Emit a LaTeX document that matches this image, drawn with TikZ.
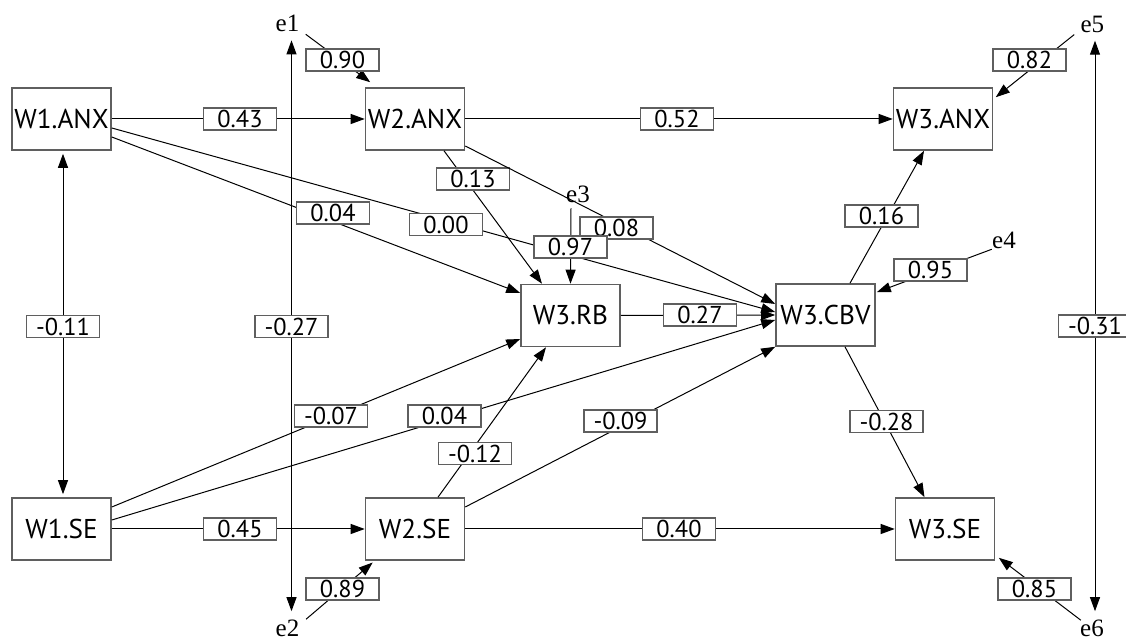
\documentclass[tikz,border=0pt]{standalone}
\usepackage{fontspec}
\usetikzlibrary{arrows.meta}
\newfontfamily\varfont{PT Sans}
\newfontfamily\errfont{Liberation Serif}
\definecolor{boxgray}{RGB}{95,95,95}
\tikzset{
  var/.style={draw=boxgray, line width=0.8pt, minimum width=49.5pt, minimum height=31pt,
    inner sep=0pt, font=\varfont\fontsize{13.6}{15}\selectfont},
  lab/.style={draw=boxgray, line width=0.7pt, fill=white, minimum width=36.5pt,
    minimum height=11pt, inner sep=0pt, font=\varfont\fontsize{12.2}{13}\selectfont},
  err/.style={inner sep=0pt, font=\errfont\fontsize{12.5}{13}\selectfont},
  tip/.tip={Triangle[length=7pt,width=5pt]},
  path/.style={draw=black, line width=0.5pt, -tip},
  bidir/.style={draw=black, line width=0.5pt, tip-tip}
}
\begin{document}
\begin{tikzpicture}[x=0.5pt, y=-0.5pt]
\clip (0,0) rectangle (1126,640);
\fill[white] (0,0) rectangle (1126,640);

% observed variables
\node[var] (W1ANX) at (61.5,119) {W1.ANX};
\node[var] (W2ANX) at (415,119) {W2.ANX};
\node[var] (W3ANX) at (943,119) {W3.ANX};
\node[var] (W1SE) at (61.5,529) {W1.SE};
\node[var] (W2SE) at (415,529) {W2.SE};
\node[var] (W3SE) at (945,529) {W3.SE};
\node[var] (W3RB) at (570.5,315.5) {W3.RB};
\node[var] (W3CBV) at (825.5,315) {W3.CBV};

% error terms
\node[err] (e1) at (287.5,23) {e1};
\node[err] (e2) at (287.5,628) {e2};
\node[err] (e3) at (578,194.5) {e3};
\node[err] (e4) at (1004,240.5) {e4};
\node[err] (e5) at (1092.4,24.4) {e5};
\node[err] (e6) at (1092,628) {e6};

% covariances
\draw[bidir, shorten <=1.5pt, shorten >=1.5pt] ([xshift=0.75pt]W1ANX.south) -- ([xshift=0.75pt]W1SE.north)
  node[lab] at (63,326.5) {-0.11};
\draw[bidir, shorten <=4.3pt, shorten >=4pt] ([xshift=2pt]e1.south) -- ([xshift=2pt]e2.north)
  node[lab] at (291.5,326.5) {-0.27};
\draw[bidir, shorten <=3.8pt, shorten >=4pt] ([xshift=1.3pt]e5.south) -- ([xshift=1.5pt]e6.north)
  node[lab] at (1095,326) {-0.31};

% horizontal paths
\draw[path] (W1ANX.east) -- (W2ANX.west) node[lab] at (240,119) {0.43};
\draw[path] (W2ANX.east) -- (W3ANX.west) node[lab] at (677,119) {0.52};
\draw[path] (W1SE.east) -- (W2SE.west) node[lab] at (240,529) {0.45};
\draw[path] (W2SE.east) -- (W3SE.west) node[lab] at (679,529) {0.40};

% cross paths
\draw[path] ([shift={(0,18)}]W1ANX.east) -- ([shift={(0,-22.5)}]W3RB.west)
  node[lab] at (333,213) {0.04};
\draw[path] ([shift={(0,9)}]W1ANX.east) -- ([shift={(0,-3)}]W3CBV.west)
  node[lab] at (446,224.5) {0.00};
\draw[path] ([shift={(29,0)}]W2ANX.south) -- ([shift={(-28.5,0)}]W3RB.north)
  node[lab] at (473,179) {0.13};
\draw[path] ([shift={(0,27)}]W2ANX.east) -- ([shift={(0,-11)}]W3CBV.west)
  node[lab] at (616.5,228) {0.08};
\draw[path] (W3RB.east) -- (W3CBV.west) node[lab] at (700,315) {0.27};
\draw[path] ([shift={(0,-22)}]W1SE.east) -- ([shift={(0,23.5)}]W3RB.west)
  node[lab] at (331,416) {-0.07};
\draw[path] ([shift={(0,-9)}]W1SE.east) -- ([shift={(0,5)}]W3CBV.west)
  node[lab] at (444.5,416) {0.04};
\draw[path] ([shift={(23,0)}]W2SE.north) -- ([shift={(-24.5,0)}]W3RB.south)
  node[lab] at (475,453.5) {-0.12};
\draw[path] ([shift={(0,-22)}]W2SE.east) -- (W3CBV.south west)
  node[lab] at (620.5,421) {-0.09};
\draw[path] ([shift={(24.5,0)}]W3CBV.north) -- ([shift={(-19,0)}]W3ANX.south)
  node[lab] at (881.5,216) {0.16};
\draw[path] ([shift={(19.5,0)}]W3CBV.south) -- ([shift={(-20.5,0)}]W3SE.north)
  node[lab] at (886.5,421.5) {-0.28};

% error paths
\draw[path] ([shift={(6,2.5)}]e1.south east) -- ([shift={(5.5,-5)}]W2ANX.north west)
  node[lab] at (342.5,60) {0.90};
\draw[path] ([shift={(6.4,0)}]e2.north east) -- ([shift={(8,1.7)}]W2SE.south west)
  node[lab] at (342.5,589) {0.89};
\draw[path] ([shift={(-6,1.5)}]e5.south west) -- ([shift={(2.5,10)}]W3ANX.north east)
  node[lab] at (1029.5,60) {0.82};
\draw[path] ([shift={(1,1)}]e6.north west) -- ([shift={(3.5,-3)}]W3SE.south east)
  node[lab] at (1034.5,589) {0.85};
\draw[path] (e4.south west) -- ([shift={(1,9)}]W3CBV.north east)
  node[lab] at (930.5,270) {0.95};
\draw[path] ([shift={(-7,5)}]e3.south) -- (W3RB.north)
  node[lab] at (570.5,247) {0.97};
\end{tikzpicture}
\end{document}
